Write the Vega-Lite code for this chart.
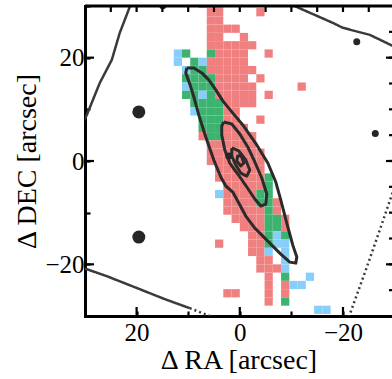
{
  "$schema": "https://vega.github.io/schema/vega-lite/v6.json",
  "width": 307,
  "height": 310,
  "autosize": {"type": "none"},
  "padding": {"left": 85, "top": 6, "right": 0, "bottom": 63},
  "background": "white",
  "config": {
    "view": {"stroke": null},
    "font": "Liberation Serif",
    "axis": {
      "grid": false,
      "domain": true,
      "ticks": true,
      "domainColor": "black",
      "domainWidth": 3,
      "domainCap": "square",
      "tickColor": "black",
      "tickWidth": 2.2,
      "zindex": 1,
      "labelFont": "Liberation Serif",
      "labelFontSize": 25,
      "labelColor": "black",
      "labelOverlap": false,
      "labelFlush": false,
      "titleFont": "Liberation Serif",
      "titleFontSize": 28,
      "titleFontWeight": "normal",
      "titleColor": "black"
    }
  },
  "datasets": {
    "pixels": [
      {"ra": 7.2, "dec": 30.4, "c": "red"}, {"ra": 5.6, "dec": 30.4, "c": "red"}, {"ra": 4.0, "dec": 30.4, "c": "red"},
      {"ra": 5.6, "dec": 28.8, "c": "red"}, {"ra": 4.0, "dec": 28.8, "c": "red"}, {"ra": -4.0, "dec": 28.8, "c": "red"},
      {"ra": 5.6, "dec": 27.2, "c": "red"}, {"ra": 4.0, "dec": 27.2, "c": "red"},
      {"ra": 5.6, "dec": 25.6, "c": "red"}, {"ra": 4.0, "dec": 25.6, "c": "red"}, {"ra": 2.4, "dec": 25.6, "c": "red"}, {"ra": 0.8, "dec": 25.6, "c": "red"},
      {"ra": 5.6, "dec": 24.0, "c": "red"}, {"ra": 4.0, "dec": 24.0, "c": "red"}, {"ra": -0.8, "dec": 24.0, "c": "red"},
      {"ra": 5.6, "dec": 22.4, "c": "red"}, {"ra": 4.0, "dec": 22.4, "c": "red"}, {"ra": 2.4, "dec": 22.4, "c": "red"}, {"ra": 0.8, "dec": 22.4, "c": "red"}, {"ra": -0.8, "dec": 22.4, "c": "red"}, {"ra": -2.4, "dec": 22.4, "c": "red"},
      {"ra": 12.0, "dec": 20.8, "c": "blue"}, {"ra": 10.4, "dec": 20.8, "c": "green"}, {"ra": 5.6, "dec": 20.8, "c": "green"}, {"ra": 4.0, "dec": 20.8, "c": "red"}, {"ra": 2.4, "dec": 20.8, "c": "red"}, {"ra": 0.8, "dec": 20.8, "c": "red"}, {"ra": -0.8, "dec": 20.8, "c": "red"}, {"ra": -5.6, "dec": 20.8, "c": "red"},
      {"ra": 12.0, "dec": 19.2, "c": "blue"}, {"ra": 8.8, "dec": 19.2, "c": "green"}, {"ra": 7.2, "dec": 19.2, "c": "blue"}, {"ra": 5.6, "dec": 19.2, "c": "red"}, {"ra": 4.0, "dec": 19.2, "c": "red"}, {"ra": 2.4, "dec": 19.2, "c": "red"}, {"ra": 0.8, "dec": 19.2, "c": "red"}, {"ra": -0.8, "dec": 19.2, "c": "red"},
      {"ra": 10.4, "dec": 17.6, "c": "blue"}, {"ra": 8.8, "dec": 17.6, "c": "green"}, {"ra": 7.2, "dec": 17.6, "c": "green"}, {"ra": 5.6, "dec": 17.6, "c": "red"}, {"ra": 4.0, "dec": 17.6, "c": "red"}, {"ra": 2.4, "dec": 17.6, "c": "red"}, {"ra": 0.8, "dec": 17.6, "c": "red"}, {"ra": -0.8, "dec": 17.6, "c": "red"}, {"ra": -2.4, "dec": 17.6, "c": "red"},
      {"ra": 10.4, "dec": 16.0, "c": "green"}, {"ra": 8.8, "dec": 16.0, "c": "green"}, {"ra": 7.2, "dec": 16.0, "c": "green"}, {"ra": 5.6, "dec": 16.0, "c": "green"}, {"ra": 4.0, "dec": 16.0, "c": "red"}, {"ra": 2.4, "dec": 16.0, "c": "red"}, {"ra": 0.8, "dec": 16.0, "c": "red"}, {"ra": -0.8, "dec": 16.0, "c": "red"}, {"ra": -4.0, "dec": 16.0, "c": "red"},
      {"ra": 10.4, "dec": 14.4, "c": "blue"}, {"ra": 8.8, "dec": 14.4, "c": "green"}, {"ra": 7.2, "dec": 14.4, "c": "green"}, {"ra": 5.6, "dec": 14.4, "c": "green"}, {"ra": 4.0, "dec": 14.4, "c": "red"}, {"ra": 2.4, "dec": 14.4, "c": "red"}, {"ra": 0.8, "dec": 14.4, "c": "red"}, {"ra": -0.8, "dec": 14.4, "c": "red"}, {"ra": -2.4, "dec": 14.4, "c": "red"}, {"ra": -12.0, "dec": 14.4, "c": "red"},
      {"ra": 10.4, "dec": 12.8, "c": "green"}, {"ra": 8.8, "dec": 12.8, "c": "green"}, {"ra": 7.2, "dec": 12.8, "c": "blue"}, {"ra": 5.6, "dec": 12.8, "c": "green"}, {"ra": 4.0, "dec": 12.8, "c": "red"}, {"ra": 2.4, "dec": 12.8, "c": "red"}, {"ra": 0.8, "dec": 12.8, "c": "red"}, {"ra": -0.8, "dec": 12.8, "c": "red"}, {"ra": -2.4, "dec": 12.8, "c": "red"}, {"ra": -5.6, "dec": 12.8, "c": "red"},
      {"ra": 8.8, "dec": 11.2, "c": "green"}, {"ra": 7.2, "dec": 11.2, "c": "green"}, {"ra": 5.6, "dec": 11.2, "c": "green"}, {"ra": 4.0, "dec": 11.2, "c": "green"}, {"ra": 2.4, "dec": 11.2, "c": "red"}, {"ra": 0.8, "dec": 11.2, "c": "red"}, {"ra": -0.8, "dec": 11.2, "c": "red"}, {"ra": -2.4, "dec": 11.2, "c": "red"},
      {"ra": 8.8, "dec": 9.6, "c": "blue"}, {"ra": 7.2, "dec": 9.6, "c": "green"}, {"ra": 5.6, "dec": 9.6, "c": "green"}, {"ra": 4.0, "dec": 9.6, "c": "green"}, {"ra": 2.4, "dec": 9.6, "c": "red"}, {"ra": 0.8, "dec": 9.6, "c": "red"},
      {"ra": 7.2, "dec": 8.0, "c": "green"}, {"ra": 5.6, "dec": 8.0, "c": "green"}, {"ra": 4.0, "dec": 8.0, "c": "green"}, {"ra": 2.4, "dec": 8.0, "c": "red"}, {"ra": 0.8, "dec": 8.0, "c": "red"}, {"ra": -4.0, "dec": 8.0, "c": "red"},
      {"ra": 7.2, "dec": 6.4, "c": "green"}, {"ra": 5.6, "dec": 6.4, "c": "green"}, {"ra": 4.0, "dec": 6.4, "c": "green"}, {"ra": 2.4, "dec": 6.4, "c": "red"}, {"ra": 0.8, "dec": 6.4, "c": "red"}, {"ra": -0.8, "dec": 6.4, "c": "red"},
      {"ra": 7.2, "dec": 4.8, "c": "red"}, {"ra": 5.6, "dec": 4.8, "c": "green"}, {"ra": 4.0, "dec": 4.8, "c": "green"}, {"ra": 2.4, "dec": 4.8, "c": "red"}, {"ra": 0.8, "dec": 4.8, "c": "red"}, {"ra": -0.8, "dec": 4.8, "c": "red"}, {"ra": -2.4, "dec": 4.8, "c": "red"},
      {"ra": 5.6, "dec": 3.2, "c": "red"}, {"ra": 4.0, "dec": 3.2, "c": "red"}, {"ra": 2.4, "dec": 3.2, "c": "red"}, {"ra": 0.8, "dec": 3.2, "c": "red"}, {"ra": -0.8, "dec": 3.2, "c": "red"}, {"ra": -2.4, "dec": 3.2, "c": "red"},
      {"ra": 5.6, "dec": 1.6, "c": "red"}, {"ra": 4.0, "dec": 1.6, "c": "red"}, {"ra": 2.4, "dec": 1.6, "c": "red"}, {"ra": 0.8, "dec": 1.6, "c": "red"}, {"ra": -0.8, "dec": 1.6, "c": "red"}, {"ra": -2.4, "dec": 1.6, "c": "red"}, {"ra": -4.0, "dec": 1.6, "c": "red"},
      {"ra": 5.6, "dec": 0.0, "c": "red"}, {"ra": 4.0, "dec": 0.0, "c": "red"}, {"ra": 2.4, "dec": 0.0, "c": "red"}, {"ra": 0.8, "dec": 0.0, "c": "red"}, {"ra": -0.8, "dec": 0.0, "c": "red"}, {"ra": -2.4, "dec": 0.0, "c": "red"}, {"ra": -4.0, "dec": 0.0, "c": "red"},
      {"ra": 4.0, "dec": -1.6, "c": "red"}, {"ra": 2.4, "dec": -1.6, "c": "red"}, {"ra": 0.8, "dec": -1.6, "c": "red"}, {"ra": -0.8, "dec": -1.6, "c": "red"}, {"ra": -2.4, "dec": -1.6, "c": "red"}, {"ra": -4.0, "dec": -1.6, "c": "red"},
      {"ra": 4.0, "dec": -3.2, "c": "red"}, {"ra": 2.4, "dec": -3.2, "c": "red"}, {"ra": 0.8, "dec": -3.2, "c": "red"}, {"ra": -0.8, "dec": -3.2, "c": "red"}, {"ra": -2.4, "dec": -3.2, "c": "red"}, {"ra": -4.0, "dec": -3.2, "c": "red"}, {"ra": -5.6, "dec": -3.2, "c": "green"},
      {"ra": 2.4, "dec": -4.8, "c": "red"}, {"ra": 0.8, "dec": -4.8, "c": "red"}, {"ra": -0.8, "dec": -4.8, "c": "red"}, {"ra": -2.4, "dec": -4.8, "c": "red"}, {"ra": -4.0, "dec": -4.8, "c": "red"}, {"ra": -5.6, "dec": -4.8, "c": "green"},
      {"ra": 4.0, "dec": -6.4, "c": "blue"}, {"ra": 2.4, "dec": -6.4, "c": "red"}, {"ra": 0.8, "dec": -6.4, "c": "red"}, {"ra": -0.8, "dec": -6.4, "c": "red"}, {"ra": -2.4, "dec": -6.4, "c": "red"}, {"ra": -4.0, "dec": -6.4, "c": "green"}, {"ra": -5.6, "dec": -6.4, "c": "green"},
      {"ra": 2.4, "dec": -8.0, "c": "red"}, {"ra": 0.8, "dec": -8.0, "c": "red"}, {"ra": -0.8, "dec": -8.0, "c": "red"}, {"ra": -2.4, "dec": -8.0, "c": "red"}, {"ra": -4.0, "dec": -8.0, "c": "green"}, {"ra": -5.6, "dec": -8.0, "c": "green"}, {"ra": -7.2, "dec": -8.0, "c": "red"},
      {"ra": 2.4, "dec": -9.6, "c": "red"}, {"ra": 0.8, "dec": -9.6, "c": "red"}, {"ra": -0.8, "dec": -9.6, "c": "red"}, {"ra": -2.4, "dec": -9.6, "c": "red"}, {"ra": -4.0, "dec": -9.6, "c": "red"}, {"ra": -5.6, "dec": -9.6, "c": "green"}, {"ra": -7.2, "dec": -9.6, "c": "red"},
      {"ra": 0.8, "dec": -11.2, "c": "red"}, {"ra": -0.8, "dec": -11.2, "c": "red"}, {"ra": -2.4, "dec": -11.2, "c": "red"}, {"ra": -4.0, "dec": -11.2, "c": "red"}, {"ra": -5.6, "dec": -11.2, "c": "green"}, {"ra": -7.2, "dec": -11.2, "c": "green"}, {"ra": -8.8, "dec": -11.2, "c": "red"},
      {"ra": -0.8, "dec": -12.8, "c": "red"}, {"ra": -2.4, "dec": -12.8, "c": "red"}, {"ra": -4.0, "dec": -12.8, "c": "red"}, {"ra": -5.6, "dec": -12.8, "c": "green"}, {"ra": -7.2, "dec": -12.8, "c": "green"}, {"ra": -8.8, "dec": -12.8, "c": "red"},
      {"ra": -2.4, "dec": -14.4, "c": "red"}, {"ra": -4.0, "dec": -14.4, "c": "red"}, {"ra": -5.6, "dec": -14.4, "c": "green"}, {"ra": -7.2, "dec": -14.4, "c": "blue"}, {"ra": -8.8, "dec": -14.4, "c": "green"},
      {"ra": 4.0, "dec": -16.0, "c": "red"}, {"ra": -2.4, "dec": -16.0, "c": "red"}, {"ra": -4.0, "dec": -16.0, "c": "red"}, {"ra": -5.6, "dec": -16.0, "c": "green"}, {"ra": -7.2, "dec": -16.0, "c": "blue"}, {"ra": -8.8, "dec": -16.0, "c": "blue"},
      {"ra": -2.4, "dec": -17.6, "c": "red"}, {"ra": -4.0, "dec": -17.6, "c": "red"}, {"ra": -5.6, "dec": -17.6, "c": "blue"}, {"ra": -8.8, "dec": -17.6, "c": "blue"},
      {"ra": -4.0, "dec": -19.2, "c": "red"}, {"ra": -5.6, "dec": -19.2, "c": "red"}, {"ra": -8.8, "dec": -19.2, "c": "blue"},
      {"ra": -4.0, "dec": -20.8, "c": "red"}, {"ra": -5.6, "dec": -20.8, "c": "red"}, {"ra": -7.2, "dec": -20.8, "c": "red"}, {"ra": -8.8, "dec": -20.8, "c": "blue"},
      {"ra": -5.6, "dec": -22.4, "c": "red"}, {"ra": -8.8, "dec": -22.4, "c": "green"}, {"ra": -13.6, "dec": -22.4, "c": "blue"},
      {"ra": -5.6, "dec": -24.0, "c": "red"}, {"ra": -8.8, "dec": -24.0, "c": "red"}, {"ra": -10.4, "dec": -24.0, "c": "blue"}, {"ra": -12.0, "dec": -24.0, "c": "blue"},
      {"ra": 2.4, "dec": -25.6, "c": "red"}, {"ra": 0.8, "dec": -25.6, "c": "red"}, {"ra": -5.6, "dec": -25.6, "c": "red"}, {"ra": -8.8, "dec": -25.6, "c": "red"},
      {"ra": -5.6, "dec": -27.2, "c": "red"}, {"ra": -8.8, "dec": -27.2, "c": "green"},
      {"ra": -15.2, "dec": -28.8, "c": "blue"}, {"ra": -16.8, "dec": -28.8, "c": "blue"}
    ],
    "edges": [
      {"seg": "A", "k": 0, "ra": 30.23, "dec": 7.75, "dash": "solid"},
      {"seg": "A", "k": 1, "ra": 29.65, "dec": 8.91, "dash": "solid"},
      {"seg": "A", "k": 2, "ra": 27.13, "dec": 15.12, "dash": "solid"},
      {"seg": "A", "k": 3, "ra": 24.81, "dec": 19.57, "dash": "solid"},
      {"seg": "A", "k": 4, "ra": 23.26, "dec": 24.81, "dash": "solid"},
      {"seg": "A", "k": 5, "ra": 21.32, "dec": 29.84, "dash": "solid"},
      {"seg": "A", "k": 6, "ra": 21.12, "dec": 30.43, "dash": "solid"},
      {"seg": "B", "k": 0, "ra": 30.23, "dec": -20.74, "dash": "solid"},
      {"seg": "B", "k": 1, "ra": 25.78, "dec": -22.29, "dash": "solid"},
      {"seg": "B", "k": 2, "ra": 19.38, "dec": -24.81, "dash": "solid"},
      {"seg": "B", "k": 3, "ra": 14.53, "dec": -26.74, "dash": "solid"},
      {"seg": "B", "k": 4, "ra": 9.69, "dec": -28.49, "dash": "solid"},
      {"seg": "B2", "k": 0, "ra": 9.69, "dec": -28.49, "dash": "dotted"},
      {"seg": "B2", "k": 1, "ra": 5.23, "dec": -30.23, "dash": "dotted"},
      {"seg": "C", "k": 0, "ra": -10.08, "dec": 30.23, "dash": "solid"},
      {"seg": "C", "k": 1, "ra": -18.02, "dec": 26.74, "dash": "solid"},
      {"seg": "C", "k": 2, "ra": -19.96, "dec": 25.78, "dash": "solid"},
      {"seg": "C", "k": 3, "ra": -25.19, "dec": 24.42, "dash": "solid"},
      {"seg": "C", "k": 4, "ra": -30.04, "dec": 22.09, "dash": "solid"},
      {"seg": "D", "k": 0, "ra": -21.12, "dec": -30.23, "dash": "dotted"},
      {"seg": "D", "k": 1, "ra": -24.42, "dec": -21.12, "dash": "dotted"},
      {"seg": "D", "k": 2, "ra": -27.13, "dec": -13.37, "dash": "dotted"},
      {"seg": "D", "k": 3, "ra": -29.65, "dec": -6.01, "dash": "dotted"}
    ],
    "contours": [
      {"lev": 1, "k": 0, "ra": 10.27, "dec": 18.02},
      {"lev": 1, "k": 1, "ra": 8.91, "dec": 18.02},
      {"lev": 1, "k": 2, "ra": 7.36, "dec": 17.05},
      {"lev": 1, "k": 3, "ra": 6.01, "dec": 15.70},
      {"lev": 1, "k": 4, "ra": 4.65, "dec": 13.76},
      {"lev": 1, "k": 5, "ra": 3.29, "dec": 11.63},
      {"lev": 1, "k": 6, "ra": 1.55, "dec": 9.50},
      {"lev": 1, "k": 7, "ra": -0.58, "dec": 6.98},
      {"lev": 1, "k": 8, "ra": -3.29, "dec": 3.10},
      {"lev": 1, "k": 9, "ra": -5.43, "dec": -0.39},
      {"lev": 1, "k": 10, "ra": -6.98, "dec": -4.07},
      {"lev": 1, "k": 11, "ra": -7.95, "dec": -7.56},
      {"lev": 1, "k": 12, "ra": -9.11, "dec": -12.02},
      {"lev": 1, "k": 13, "ra": -10.27, "dec": -16.28},
      {"lev": 1, "k": 14, "ra": -11.05, "dec": -18.60},
      {"lev": 1, "k": 15, "ra": -10.85, "dec": -19.77},
      {"lev": 1, "k": 16, "ra": -9.69, "dec": -19.57},
      {"lev": 1, "k": 17, "ra": -7.95, "dec": -18.02},
      {"lev": 1, "k": 18, "ra": -5.04, "dec": -15.12},
      {"lev": 1, "k": 19, "ra": -2.91, "dec": -12.98},
      {"lev": 1, "k": 20, "ra": -1.16, "dec": -10.66},
      {"lev": 1, "k": 21, "ra": 0.19, "dec": -8.14},
      {"lev": 1, "k": 22, "ra": 1.36, "dec": -6.01},
      {"lev": 1, "k": 23, "ra": 2.71, "dec": -4.84},
      {"lev": 1, "k": 24, "ra": 3.68, "dec": -3.10},
      {"lev": 1, "k": 25, "ra": 5.04, "dec": 0.19},
      {"lev": 1, "k": 26, "ra": 6.59, "dec": 4.65},
      {"lev": 1, "k": 27, "ra": 7.95, "dec": 8.91},
      {"lev": 1, "k": 28, "ra": 8.91, "dec": 12.40},
      {"lev": 1, "k": 29, "ra": 9.69, "dec": 14.92},
      {"lev": 1, "k": 30, "ra": 10.47, "dec": 17.05},
      {"lev": 1, "k": 31, "ra": 10.27, "dec": 18.02},
      {"lev": 2, "k": 0, "ra": 3.10, "dec": 7.56},
      {"lev": 2, "k": 1, "ra": 1.55, "dec": 7.17},
      {"lev": 2, "k": 2, "ra": 0.0, "dec": 5.23},
      {"lev": 2, "k": 3, "ra": -1.55, "dec": 2.71},
      {"lev": 2, "k": 4, "ra": -2.91, "dec": -0.19},
      {"lev": 2, "k": 5, "ra": -4.26, "dec": -3.29},
      {"lev": 2, "k": 6, "ra": -5.23, "dec": -6.40},
      {"lev": 2, "k": 7, "ra": -5.04, "dec": -8.33},
      {"lev": 2, "k": 8, "ra": -4.07, "dec": -8.72},
      {"lev": 2, "k": 9, "ra": -2.91, "dec": -7.36},
      {"lev": 2, "k": 10, "ra": -1.36, "dec": -5.04},
      {"lev": 2, "k": 11, "ra": 0.39, "dec": -2.52},
      {"lev": 2, "k": 12, "ra": 1.94, "dec": -0.39},
      {"lev": 2, "k": 13, "ra": 2.91, "dec": 2.13},
      {"lev": 2, "k": 14, "ra": 3.49, "dec": 5.04},
      {"lev": 2, "k": 15, "ra": 3.49, "dec": 6.78},
      {"lev": 2, "k": 16, "ra": 3.10, "dec": 7.56},
      {"lev": 3, "k": 0, "ra": 1.55, "dec": 2.52},
      {"lev": 3, "k": 1, "ra": 0.19, "dec": 1.94},
      {"lev": 3, "k": 2, "ra": -1.16, "dec": 0.19},
      {"lev": 3, "k": 3, "ra": -1.94, "dec": -1.74},
      {"lev": 3, "k": 4, "ra": -1.36, "dec": -2.91},
      {"lev": 3, "k": 5, "ra": -0.19, "dec": -2.33},
      {"lev": 3, "k": 6, "ra": 0.78, "dec": -0.78},
      {"lev": 3, "k": 7, "ra": 1.55, "dec": 0.97},
      {"lev": 3, "k": 8, "ra": 1.55, "dec": 2.52},
      {"lev": 4, "k": 0, "ra": 0.39, "dec": 1.16},
      {"lev": 4, "k": 1, "ra": -0.39, "dec": 0.78},
      {"lev": 4, "k": 2, "ra": -0.78, "dec": -0.39},
      {"lev": 4, "k": 3, "ra": -0.19, "dec": -0.97},
      {"lev": 4, "k": 4, "ra": 0.58, "dec": 0.0},
      {"lev": 4, "k": 5, "ra": 0.39, "dec": 1.16}
    ],
    "sources": [
      {"ra": 19.57, "dec": 9.50, "kind": "bright"},
      {"ra": 19.57, "dec": -14.73, "kind": "bright"},
      {"ra": -22.67, "dec": 23.06, "kind": "faint"},
      {"ra": -26.26, "dec": 5.33, "kind": "faint"},
      {"ra": 14.92, "dec": 30.04, "kind": "faint"},
      {"ra": 2.13, "dec": 0.97, "kind": "faint"}
    ],
    "gridticks": [
      {"v": -25}, {"v": -20}, {"v": -15}, {"v": -10}, {"v": -5}, {"v": 0},
      {"v": 5}, {"v": 10}, {"v": 15}, {"v": 20}, {"v": 25}
    ],
    "majorticks": [
      {"v": -20}, {"v": 0}, {"v": 20}
    ]
  },
  "layer": [
    {
      "data": {"name": "pixels"},
      "mark": {"type": "point", "shape": "square", "filled": true, "opacity": 1, "size": 68, "strokeWidth": 0, "clip": true},
      "encoding": {
        "x": {
          "field": "ra", "type": "quantitative",
          "scale": {"domain": [30, -29.5], "nice": false, "zero": false},
          "axis": {
            "orient": "bottom",
            "values": [-30, -25, -20, -15, -10, -5, 0, 5, 10, 15, 20, 25, 30],
            "tickSize": -5,
            "labelExpr": "datum.value % 20 === 0 ? replace(datum.label, '-', '−') : ''",
            "labelPadding": 9,
            "title": "Δ RA [arcsec]",
            "titlePadding": 1
          }
        },
        "y": {
          "field": "dec", "type": "quantitative",
          "scale": {"domain": [-30, 30], "nice": false, "zero": false},
          "axis": {
            "orient": "left",
            "values": [-30, -25, -20, -15, -10, -5, 0, 5, 10, 15, 20, 25, 30],
            "tickSize": -5,
            "labelExpr": "datum.value % 20 === 0 ? replace(datum.label, '-', '−') : ''",
            "labelPadding": 6,
            "title": "Δ DEC [arcsec]",
            "titlePadding": 3
          }
        },
        "color": {
          "field": "c", "type": "nominal",
          "scale": {"domain": ["red", "green", "blue"], "range": ["#F08080", "#3CB371", "#87CEFA"]},
          "legend": null
        }
      }
    },
    {
      "data": {"name": "edges"},
      "mark": {"type": "line", "color": "#3a3a3a", "strokeWidth": 2.5, "clip": true},
      "encoding": {
        "x": {"field": "ra", "type": "quantitative"},
        "y": {"field": "dec", "type": "quantitative"},
        "detail": {"field": "seg", "type": "nominal"},
        "order": {"field": "k", "type": "quantitative"},
        "strokeDash": {
          "field": "dash", "type": "nominal",
          "scale": {"domain": ["solid", "dotted"], "range": [[1, 0], [2, 3]]},
          "legend": null
        }
      }
    },
    {
      "data": {"name": "contours"},
      "mark": {"type": "line", "color": "#2b2b2b", "strokeWidth": 3, "strokeJoin": "round", "clip": true},
      "encoding": {
        "x": {"field": "ra", "type": "quantitative"},
        "y": {"field": "dec", "type": "quantitative"},
        "detail": {"field": "lev", "type": "nominal"},
        "order": {"field": "k", "type": "quantitative"}
      }
    },
    {
      "data": {"name": "sources"},
      "mark": {"type": "point", "shape": "circle", "filled": true, "opacity": 1, "color": "#262626", "strokeWidth": 0, "clip": true},
      "encoding": {
        "x": {"field": "ra", "type": "quantitative"},
        "y": {"field": "dec", "type": "quantitative"},
        "size": {
          "field": "kind", "type": "nominal",
          "scale": {"domain": ["bright", "faint"], "range": [169, 49]},
          "legend": null
        }
      }
    },
    {
      "data": {"name": "gridticks"},
      "mark": {"type": "tick", "orient": "vertical", "color": "black", "size": 12, "thickness": 2.2, "opacity": 1, "clip": true},
      "encoding": {
        "x": {"field": "v", "type": "quantitative"},
        "y": {"datum": 30}
      }
    },
    {
      "data": {"name": "gridticks"},
      "mark": {"type": "tick", "orient": "horizontal", "color": "black", "size": 14, "thickness": 2.2, "opacity": 1, "clip": true},
      "encoding": {
        "y": {"field": "v", "type": "quantitative"},
        "x": {"datum": -30.27}
      }
    },
    {
      "data": {"name": "majorticks"},
      "mark": {"type": "tick", "orient": "vertical", "color": "black", "size": 18, "thickness": 2.2, "opacity": 1, "clip": true},
      "encoding": {
        "x": {"field": "v", "type": "quantitative"},
        "y": {"datum": -30}
      }
    },
    {
      "data": {"name": "majorticks"},
      "mark": {"type": "tick", "orient": "horizontal", "color": "black", "size": 18, "thickness": 2.2, "opacity": 1, "clip": true},
      "encoding": {
        "y": {"field": "v", "type": "quantitative"},
        "x": {"datum": 30}
      }
    },
    {
      "data": {"name": "majorticks"},
      "mark": {"type": "tick", "orient": "horizontal", "color": "black", "size": 20, "thickness": 2.2, "opacity": 1, "clip": true},
      "encoding": {
        "y": {"field": "v", "type": "quantitative"},
        "x": {"datum": -30.27}
      }
    },
    {
      "data": {"values": [{}]},
      "mark": {"type": "rule", "color": "black", "strokeWidth": 3},
      "encoding": {
        "y": {"datum": 30}
      }
    }
  ]
}
